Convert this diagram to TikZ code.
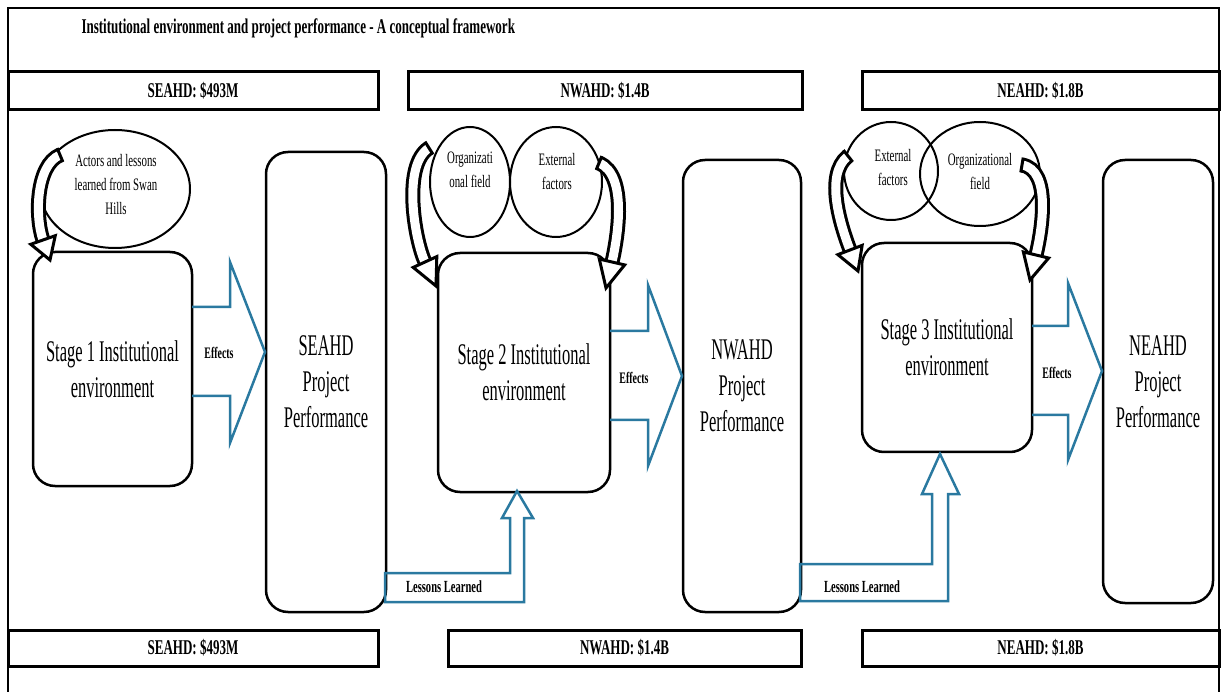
\documentclass[tikz,border=0pt]{standalone}
\usepackage{fontspec}
\setmainfont{Liberation Serif}[FakeStretch=0.62]
\newfontfamily\narrowserif{Liberation Serif}[FakeStretch=0.55]
\usetikzlibrary{shapes.geometric,calc}
\definecolor{flowblue}{RGB}{42,121,160}
\tikzset{
  frameline/.style={line width=1.5pt},
  bar/.style={draw, line width=3pt, inner sep=0pt, font=\bfseries\fontsize{21}{24}\selectfont},
  stagebox/.style={draw, line width=2.5pt, rounded corners=22pt, align=center, inner sep=0pt,
    font=\narrowserif\fontsize{30}{36}\selectfont},
  bubble/.style={draw, ellipse, line width=2pt, inner sep=0pt},
  bubbletext/.style={align=center, font=\fontsize{17.5}{24}\selectfont},
  blockarrow/.style={draw=flowblue, line width=2.5pt, line join=miter},
  arrowtext/.style={font=\bfseries\fontsize{16}{18}\selectfont},
  shaft/.style={draw=black, line width=3pt, double=white, double distance=9pt},
  bhead/.style={draw=black, fill=white, line width=3pt, line join=miter},
}
% curved block arrow: tail, first control, head base, tip
\newcommand{\bentarrow}[4]{%
  \draw[shaft] (#1) .. controls (#2) and ($(#3)!-25pt!(#4)$) .. (#3);
  \draw[line width=3pt] ($(#1)!7.5pt!90:(#2)$) -- ($(#1)!7.5pt!-90:(#2)$);
  \filldraw[bhead] ($(#3)!13pt!90:(#4)$) -- (#4) -- ($(#3)!13pt!-90:(#4)$) -- cycle;
}
\begin{document}
\begin{tikzpicture}[x=1pt, y=-1pt]
\useasboundingbox (0,0) rectangle (1224,692);

% outer frame (open at the bottom)
\draw[frameline] (8,692) -- (8,8) -- (1219,8) -- (1219,692);
\node[anchor=west, font=\bfseries\fontsize{21}{24}\selectfont] (title) at (78,28)
  {Institutional environment and project performance - A conceptual framework};

% cost bars, top and bottom
\node[bar, minimum width=370pt, minimum height=38pt] (t1) at (193,91) {SEAHD: \$493M};
\node[bar, minimum width=394pt, minimum height=38pt] (t2) at (605,91) {NWAHD: \$1.4B};
\node[bar, minimum width=357pt, minimum height=38pt] (t3) at (1040.5,91) {NEAHD: \$1.8B};
\node[bar, minimum width=370pt, minimum height=36pt] (b1) at (193,648) {SEAHD: \$493M};
\node[bar, minimum width=353pt, minimum height=36pt] (b2) at (624.5,648) {NWAHD: \$1.4B};
\node[bar, minimum width=357pt, minimum height=36pt] (b3) at (1040.5,648) {NEAHD: \$1.8B};

% influence bubbles
\node[bubble, minimum width=150pt, minimum height=118pt] (e1) at (115,189) {};
\node[bubbletext] at (116,185) {Actors and lessons\\learned from Swan\\Hills};
\node[bubble, minimum width=80pt, minimum height=110pt] (e2a) at (470,182) {};
\node[bubble, minimum width=92pt, minimum height=110pt] (e2b) at (556,182) {};
\node[bubbletext] at (470,170) {Organizati\\onal field};
\node[bubbletext] at (557,172) {External\\factors};
\node[bubble, minimum width=94pt, minimum height=98pt] (e3a) at (891,171) {};
\node[bubble, minimum width=120pt, minimum height=104pt] (e3b) at (980,174) {};
\node[bubbletext] at (893,168) {External\\factors};
\node[bubbletext] at (980,172) {Organizational\\field};

% stages and performance boxes
\node[stagebox, minimum width=159pt, minimum height=234pt] (s1) at (112.5,369) {Stage 1 Institutional\\environment};
\node[stagebox, minimum width=120pt, minimum height=460pt] (p1) at (326,382) {SEAHD\\Project\\Performance};
\node[stagebox, minimum width=172pt, minimum height=239pt] (s2) at (524,372.5) {Stage 2 Institutional\\environment};
\node[stagebox, minimum width=118pt, minimum height=452pt] (p2) at (742,386) {NWAHD\\Project\\Performance};
\node[stagebox, minimum width=170pt, minimum height=209pt] (s3) at (947,347.5) {Stage 3 Institutional\\environment};
\node[stagebox, minimum width=110pt, minimum height=443pt] (p3) at (1158,381.5) {NEAHD\\Project\\Performance};

% "Effects" block arrows
\draw[blockarrow] (192,307) -- (230,307) -- (230,262) -- (265,352) -- (230,443) -- (230,396) -- (192,396);
\node[arrowtext] at (219,353) {Effects};
\draw[blockarrow] (610,331) -- (648,331) -- (648,285) -- (682,376) -- (648,466) -- (648,420) -- (610,420);
\node[arrowtext] at (634,378) {Effects};
\draw[blockarrow] (1032,326) -- (1068,326) -- (1068,283) -- (1102,371) -- (1068,460) -- (1068,415) -- (1032,415);
\node[arrowtext] at (1057,373) {Effects};

% "Lessons Learned" feedback arrows
\draw[blockarrow] (385,573) -- (510,573) -- (510,518) -- (502,518) -- (517,491) -- (533,518)
  -- (524,518) -- (524,602) -- (385,602) -- cycle;
\node[arrowtext, font=\bfseries\fontsize{17}{18}\selectfont] at (444,587) {Lessons Learned};
\draw[blockarrow] (800,564) -- (932,564) -- (932,494) -- (922,494) -- (940,454) -- (959,494)
  -- (948,494) -- (948,601) -- (800,601) -- cycle;
\node[arrowtext, font=\bfseries\fontsize{17}{18}\selectfont] at (862,587) {Lessons Learned};

% curved influence arrows from the bubbles onto the stages
\bentarrow{60,155}{36,165}{43,240}{50,260}
\bentarrow{429,148}{402,165}{425,262}{436,286}
\bentarrow{599,163}{628,175}{612,262}{606,288}
\bentarrow{848,156}{824,175}{850,250}{858,271}
\bentarrow{1022,165}{1052,170}{1036,255}{1030,280}
\end{tikzpicture}
\end{document}
